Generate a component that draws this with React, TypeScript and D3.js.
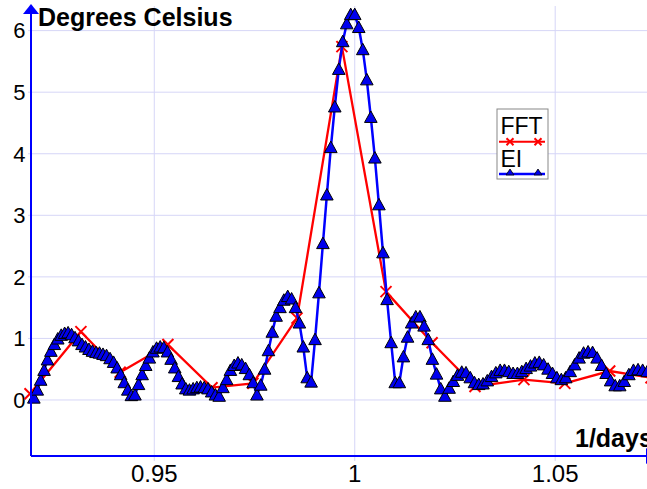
import React from 'react';
import * as d3 from 'd3';

// EI series: sampled uniformly in period (days), plotted against 1/days
const EI_PERIOD_START = 1.087;
const EI_PERIOD_STEP = 0.001;
const EI_VALUES = [
  0.03, 0.16, 0.32, 0.48, 0.65, 0.79, 0.9, 0.99, 1.05, 1.08,
  1.09, 1.06, 1.01, 0.96, 0.9, 0.86, 0.82, 0.79, 0.77, 0.76,
  0.74, 0.72, 0.67, 0.61, 0.52, 0.41, 0.28, 0.16, 0.07, 0.08,
  0.25, 0.41, 0.56, 0.68, 0.78, 0.84, 0.86, 0.85, 0.78, 0.66,
  0.52, 0.38, 0.26, 0.18, 0.16, 0.18, 0.2, 0.21, 0.2, 0.18,
  0.13, 0.08, 0.06, 0.2, 0.33, 0.48, 0.56, 0.6, 0.57, 0.51,
  0.41, 0.28, 0.08, 0.24, 0.5, 0.8, 1.1, 1.36, 1.5, 1.62,
  1.68, 1.64, 1.5, 1.25, 0.86, 0.36, 0.29, 0.98, 1.74, 2.54,
  3.33, 4.1, 4.76, 5.37, 5.82, 6.11, 6.26, 6.26, 6.05, 5.69,
  5.2, 4.59, 3.93, 3.17, 2.39, 1.63, 0.93, 0.28, 0.28, 0.7,
  1.02, 1.25, 1.35, 1.35, 1.2, 0.98, 0.66, 0.42, 0.18, 0.06,
  0.19, 0.3, 0.4, 0.45, 0.44, 0.36, 0.28, 0.25, 0.26, 0.31,
  0.38, 0.44, 0.48, 0.48, 0.46, 0.43, 0.43, 0.46, 0.51, 0.55,
  0.6, 0.61, 0.57, 0.5, 0.43, 0.36, 0.33, 0.36, 0.46, 0.57,
  0.68, 0.76, 0.78, 0.77, 0.68, 0.56, 0.43, 0.31, 0.23, 0.23,
  0.3, 0.41, 0.48, 0.49, 0.48, 0.46,
];

const FFT_FREQ = [0.919, 0.9317, 0.9415, 0.9534, 0.9644, 0.9746, 0.9856, 0.9968, 1.0078, 1.0193, 1.03, 1.0422, 1.0524, 1.0636, 1.0739];
const FFT_VALUES = [0.1, 1.11, 0.45, 0.9, 0.2, 0.27, 1.33, 5.74, 1.76, 0.93, 0.22, 0.33, 0.27, 0.47, 0.36];

const X_TICKS = [0.95, 1, 1.05];
const X_TICK_LABELS = ['0.95', '1', '1.05'];
const Y_TICKS = [0, 1, 2, 3, 4, 5, 6];
const SERIES_NAMES = ['FFT', 'EI'];
const Y_TITLE = 'Degrees Celsius';
const X_TITLE = '1/days';

const W = 647;
const H = 489;
const FONT = 'Liberation Sans, Arial, Helvetica, sans-serif';
const BLUE = '#0000ff';
const RED = '#ff0000';
const GRID = '#d6d6f7';

const x = d3.scaleLinear().domain([0.91925, 1.0729]).range([31, 647]);
const y = d3.scaleLinear().domain([-0.91, 6.4]).range([456, 6]);

const eiData = EI_VALUES.map((v, i) => ({ f: 1 / (EI_PERIOD_START - i * EI_PERIOD_STEP), v }));
const fftData = FFT_VALUES.map((v, i) => ({ f: FFT_FREQ[i], v }));

const line = d3
  .line<{ f: number; v: number }>()
  .x((d) => x(d.f))
  .y((d) => y(d.v));

function tri(cx: number, cy: number, hw: number, up: number, down: number) {
  return `M${cx},${cy - up}L${cx + hw},${cy + down}L${cx - hw},${cy + down}Z`;
}

function cross(cx: number, cy: number, s: number) {
  return `M${cx - s},${cy - s}L${cx + s},${cy + s}M${cx - s},${cy + s}L${cx + s},${cy - s}`;
}

export default function App() {
  const x0 = x.range()[0];
  const x1 = x.range()[1];
  const yBottom = y.range()[0];
  const yTop = y.range()[1];
  return (
    <svg
      width={W}
      height={H}
      style={{ position: 'absolute', left: 0, top: 0, background: '#fff' }}
      fontFamily={FONT}
    >
      {/* grid */}
      {Y_TICKS.map((t) => (
        <line key={'gy' + t} x1={x0 - 3} x2={x1} y1={y(t)} y2={y(t)} stroke={GRID} strokeWidth={1} />
      ))}
      {X_TICKS.map((t) => (
        <line key={'gx' + t} x1={x(t)} x2={x(t)} y1={yTop} y2={yBottom + 5} stroke={GRID} strokeWidth={1} />
      ))}

      {/* y tick labels */}
      {Y_TICKS.map((t) => (
        <text key={'ly' + t} x={25.5} y={y(t) + 7.8} fontSize={22} textAnchor="end" fill="#000">
          {t}
        </text>
      ))}
      {/* x tick labels */}
      {X_TICKS.map((t, i) => (
        <text key={'lx' + t} x={x(t)} y={482} fontSize={24} textAnchor="middle" fill="#000">
          {X_TICK_LABELS[i]}
        </text>
      ))}

      {/* FFT series */}
      <path d={line(fftData) || ''} fill="none" stroke={RED} strokeWidth={2.3} />
      {fftData.map((d, i) => (
        <path key={'fm' + i} d={cross(x(d.f), y(d.v), 5.5)} stroke={RED} strokeWidth={2} fill="none" />
      ))}

      {/* EI series */}
      <path d={line(eiData) || ''} fill="none" stroke={BLUE} strokeWidth={2.5} />
      {eiData.map((d, i) => (
        <path
          key={'em' + i}
          d={tri(x(d.f), y(d.v), 6.3, 6.5, 5)}
          fill="#0000ee"
          stroke="#000"
          strokeWidth={1}
          strokeLinejoin="miter"
        />
      ))}

      {/* axes */}
      <line x1={x0} x2={x0} y1={yBottom} y2={12} stroke={BLUE} strokeWidth={2} />
      <path d={`M${x0},4L${x0 + 8},14L${x0 - 8},14Z`} fill={BLUE} />
      <line x1={x0} x2={x1} y1={yBottom} y2={yBottom} stroke={BLUE} strokeWidth={2} />
      <path d={`M${x1 - 1},${yBottom - 8}L${x1 + 9},${yBottom}L${x1 - 1},${yBottom + 8}Z`} fill={BLUE} />

      {/* titles */}
      <text x={38} y={26} fontSize={25} fontWeight="bold" fill="#000">
        {Y_TITLE}
      </text>
      <text x={575} y={447} fontSize={25} fontWeight="bold" fill="#000">
        {X_TITLE}
      </text>

      {/* legend */}
      <g>
        <rect x={497} y={109} width={51} height={70} fill="#fff" stroke="#888" strokeWidth={1} />
        <text x={500.5} y={133.5} fontSize={23} fill="#000">
          {SERIES_NAMES[0]}
        </text>
        <line x1={499} x2={545} y1={141.7} y2={141.7} stroke={RED} strokeWidth={2} />
        <path d={cross(510, 141.7, 3.5)} stroke={RED} strokeWidth={2} />
        <path d={cross(538, 141.7, 3.5)} stroke={RED} strokeWidth={2} />
        <text x={500.5} y={166.7} fontSize={23} fill="#000">
          {SERIES_NAMES[1]}
        </text>
        <line x1={499} x2={545} y1={174} y2={174} stroke={BLUE} strokeWidth={2.5} />
        <path d={tri(510, 173, 4, 4, 2)} fill="#0000ee" stroke="#000" strokeWidth={0.8} />
        <path d={tri(538, 173, 4, 4, 2)} fill="#0000ee" stroke="#000" strokeWidth={0.8} />
      </g>
    </svg>
  );
}
